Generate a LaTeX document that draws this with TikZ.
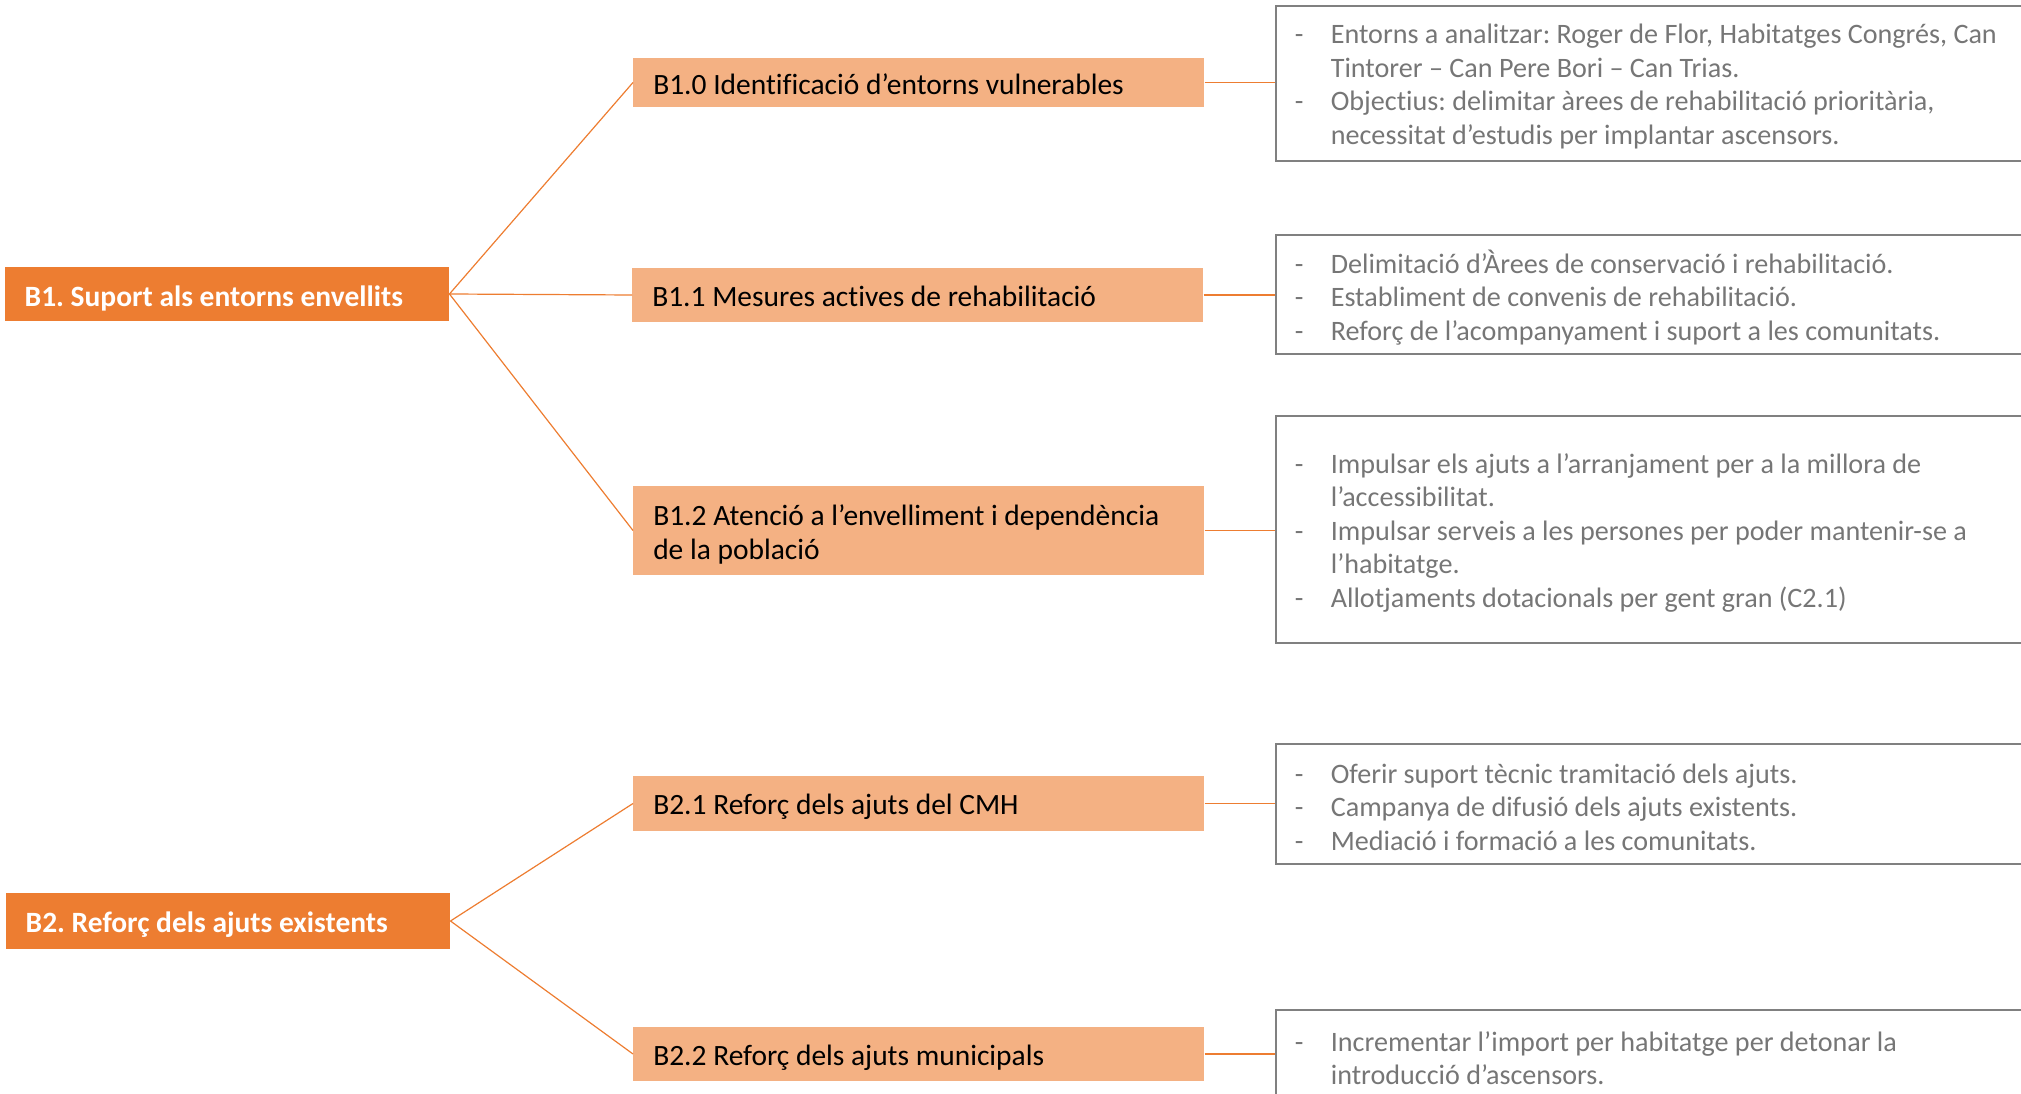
\documentclass[tikz,border=0pt]{standalone}
\usepackage{fontspec}
\setmainfont[Ligatures=NoCommon]{Carlito}
\frenchspacing
\definecolor{orangeD}{HTML}{ED7D31}
\definecolor{orangeL}{HTML}{F4B183}
\definecolor{grayT}{RGB}{118,118,118}
\definecolor{grayB}{RGB}{128,128,128}
\newcommand{\itm}{\makebox[27pt][l]{-}}
\newcommand{\cnt}{\hspace*{27pt}}
\newcommand{\bx}[3][-3pt]{\raisebox{#1}[\height][\depth]{\parbox{#2}{\raggedright #3}}}
\tikzset{
  mainbox/.style={rectangle, fill=orangeD, text=white, font=\fontsize{22.1}{25.5}\selectfont\bfseries,
    anchor=west, inner xsep=14.6pt, inner ysep=0pt},
  subbox/.style={rectangle, fill=orangeL, text=black, font=\fontsize{22.1}{26.1}\selectfont,
    anchor=west, inner xsep=15pt, inner ysep=0pt},
  listbox/.style={rectangle, draw=grayB, line width=1.2pt, text=grayT, font=\fontsize{21.1}{25.1}\selectfont,
    anchor=west, inner xsep=14.25pt, inner ysep=0pt},
  link/.style={draw=orangeD, line width=0.9pt}
}
\begin{document}
\begin{tikzpicture}[x=0.75pt,y=-0.75pt]
\useasboundingbox (0,0) rectangle (2021,1094);
% main boxes
\node[mainbox, minimum height=40.5pt] (b1) at (5,294) {\bx{303.75pt}{B1. Suport als entorns envellits}};
\node[mainbox, minimum height=42pt] (b2) at (6,921) {\bx{303.75pt}{B2. Reforç dels ajuts existents}};
% sub boxes
\node[subbox, minimum height=36.75pt] (b10) at (633,82.5) {\bx[-1pt]{398.25pt}{B1.0 Identificació d’entorns vulnerables}};
\node[subbox, minimum height=40.5pt] (b11) at (632,295) {\bx[-1.2pt]{398.25pt}{B1.1 Mesures actives de rehabilitació}};
\node[subbox, minimum height=66.75pt] (b12) at (633,530.5) {\bx{398.25pt}{B1.2 Atenció a l’envelliment i dependència\\de la població}};
\node[subbox, minimum height=41.25pt] (b21) at (633,803.5) {\bx[-2.4pt]{398.25pt}{B2.1 Reforç dels ajuts del CMH}};
\node[subbox, minimum height=40.5pt] (b22) at (633,1054) {\bx[-2.6pt]{398.25pt}{B2.2 Reforç dels ajuts municipals}};
% list boxes
\node[listbox, minimum height=116.25pt] (g1) at (1275,83.5) {\bx[-2.2pt]{600pt}{\itm Entorns a analitzar: Roger de Flor, Habitatges Congrés, Can\\\cnt Tintorer – Can Pere Bori – Can Trias.\\\itm Objectius: delimitar àrees de rehabilitació prioritària,\\\cnt necessitat d’estudis per implantar ascensors.}};
\node[listbox, minimum height=89.25pt] (g2) at (1275,294.5) {\bx[-2.2pt]{600pt}{\itm Delimitació d’Àrees de conservació i rehabilitació.\\\itm Establiment de convenis de rehabilitació.\\\itm Reforç de l’acompanyament i suport a les comunitats.}};
\node[listbox, minimum height=170.25pt] (g3) at (1275,529.5) {\bx[-2.4pt]{600pt}{\itm Impulsar els ajuts a l’arranjament per a la millora de\\\cnt l’accessibilitat.\\\itm Impulsar serveis a les persones per poder mantenir-se a\\\cnt l’habitatge.\\\itm Allotjaments dotacionals per gent gran (C2.1)}};
\node[listbox, minimum height=90pt] (g4) at (1275,804) {\bx[-2.2pt]{600pt}{\itm Oferir suport tècnic tramitació dels ajuts.\\\itm Campanya de difusió dels ajuts existents.\\\itm Mediació i formació a les comunitats.}};
\node[listbox, minimum height=67.5pt] (g5) at (1275,1055) {\bx[-2.2pt]{600pt}{\itm Incrementar l’import per habitatge per detonar la\\\cnt introducció d’ascensors.}};
% connectors
\draw[link] (b1.east) -- (b10.west);
\draw[link] (b1.east) -- (b11.west);
\draw[link] (b1.east) -- (b12.west);
\draw[link] (b2.east) -- (b21.west);
\draw[link] (b2.east) -- (b22.west);
\draw[link] (b10.east) -- (b10.east -| g1.west);
\draw[link] (b11.east) -- (b11.east -| g2.west);
\draw[link] (b12.east) -- (b12.east -| g3.west);
\draw[link] (b21.east) -- (b21.east -| g4.west);
\draw[link] (b22.east) -- (b22.east -| g5.west);
\end{tikzpicture}
\end{document}
